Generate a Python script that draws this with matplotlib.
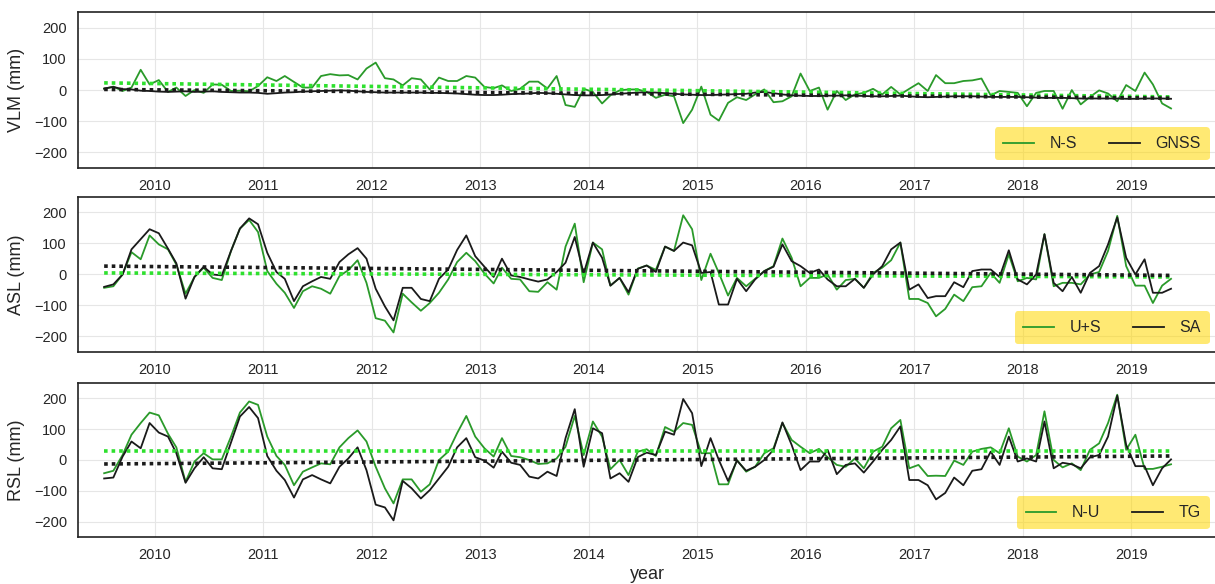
import numpy as np
import pandas as pd
import matplotlib
matplotlib.use("Agg")
import matplotlib.pyplot as plt
import matplotlib.dates as mdates

plt.rcParams['font.family'] = ['Liberation Sans', 'DejaVu Sans']
plt.rcParams['text.color'] = '#262626'
plt.rcParams['axes.labelcolor'] = '#262626'
plt.rcParams['xtick.color'] = '#262626'
plt.rcParams['ytick.color'] = '#262626'

# monthly samples, Jul 2009 - May 2019 (mid-month)
dates = pd.date_range('2009-07-01', periods=119, freq='MS') + pd.Timedelta(days=14)

# --- VLM panel ---
vlm_ns = [4, 11, -3, 8, 65, 18, 32, -6, 8, -19, 0, -9, 18, 17, -3, -2, -4, 13, 41, 29,
          45, 26, 8, 8, 45, 51, 47, 48, 34, 69, 88, 38, 34, 15, 38, 34, 2, 40, 29, 29,
          45, 40, 10, 6, 15, -3, 4, 27, 27, 5, 45, -48, -54, 4, -6, -43, -17, -1, 2, 2,
          -6, -25,
          -15, -20, -106, -63,
          11, -79, -98, -41, -23, -32, -14, 2, -39, -36, -20, 53,
          -3, 8, -63, -3, -32, -14, -9, 4, -14, 10, -14, 4,
          22, -3, 48, 22, 22, 29, 31, 37, -17, -3, -6, -9,
          -52, -9, -3, -3, -60, 0, -46, -22, -1, -11, -36, 16,
          -3, 56, 18, -43, -59]
vlm_gnss = [5, 10, 3, 2, -2, -3,
            -5, -6, -5, -4, -6, -5, -4, -6, -7, -8, -8, -9,
            -12, -10, -8, -7, -5, -4, -3, -2, -1, -2, -4, -6,
            -7, -8, -8, -8, -8, -8, -9, -9, -10, -11, -13, -15,
            -16, -16, -15, -13, -12, -11, -9, -10, -12, -14, -16, -17,
            -17, -16, -14, -12, -10, -8, -7, -8, -10, -12, -14, -15,
            -16, -16, -15, -14, -13, -12, -8, -6, -10, -14, -17, -18,
            -19, -19, -18, -18, -17, -18, -19, -20, -20, -19, -18, -20,
            -22, -23, -22, -21, -20, -20, -20, -21, -22, -22, -22, -22,
            -23, -24, -25, -25, -25, -26, -27, -27, -27, -27, -27, -28,
            -28, -27, -27, -27, -28]

# --- ASL panel ---
asl_us = [-43, -38, 0, 72, 49, 126, 97, 81, 32, -62, -8, 22, -11, -18, 76, 148, 176, 137, 11, -30,
          -59, -108, -54, -38, -46, -62, -5, 14, 46, -27, -141, -149, -187, -62, -90, -117, -92, -59, -16, 40,
          70, 43, 3, -29, 22, -14, -16, -54, -56, -25, -49, 90, 164, -25, 103, 81, -36, -11, -65, 19,
          29,
          15, 90, 76, 191, 146,
          -18, 67, 5, -68, -11, -38, -14, 11, 27, 116, 54, -38,
          -11, -11, 0, -49, -18, -14, -43, 5, 22, 46, 103, -79,
          -79, -92, -135, -111, -65, -86, -41, -38, 5, -27, 65, -22,
          -11, -16, 130, -38, -27, -27, -32, 0, 8, 76, 189, 27,
          -36, -36, -92, -36, -14]
asl_sa = [-40, -32, 0, 81, 114, 146, 133, 83, 36, -78, -8, 25, 0, -3, 76, 148, 181, 162, 70, 8,
          -14, -86, -38, -22, -8, -14, 40, 65, 85, 51, -46, -103, -148, -43, -43, -79, -86, -14, 16, 79,
          126, 59, 25, -8, 51, -3, -8, -16, -23, -16, 8, 38, 121, 3, 103, 54, -36, -11, -57, 18,
          29,
          8, 90, 76, 103, 94,
          5, 8, -97, -97, -14, -54, -16, 11, 25, 97, 43, 27,
          5, 16, -16, -38, -38, -14, -43, 0, 27, 81, 103, -49,
          -32, -76, -70, -70, -25, -41, 11, 16, 16, -8, 78, -16,
          -32, 0, 130, -27, -54, -8, -59, 5, 27, 97, 184, 54,
          0, 49, -59, -59, -46]

# --- RSL panel ---
rsl_nu = [-43, -35, 16, 82, 120, 154, 145, 85, 41, -71, -5, 22, 2, 2, 76, 154, 190, 179, 76, 13,
          -16, -82, -38, -24, -11, -14, 41, 71, 96, 60, -22, -92, -141, -63, -63, -103, -79, 0, 27, 87,
          143, 76, 38, 11, 71, 13, 9, 0, -13, -11, 5, 43, 143, 16, 125, 76, -30, 0, -49, 27,
          35,
          13, 107, 92, 120, 114,
          22, 22, -79, -79, 0, -38, -22, 22, 38, 120, 65, 43,
          22, 36, 9, -16, -22, 5, -27, 27, 43, 103, 130, -27,
          -16, -52, -51, -52, -2, -16, 27, 36, 41, 22, 103, 11,
          -5, 16, 158, 0, -24, -11, -33, 33, 54, 120, 212, 33,
          82, -29, -29, -22, -14]
rsl_tg = [-60, -57, 11, 60, 38, 120, 89, 76, 22, -74, -27, 9, -27, -30, 57, 141, 172, 136, 13, -35,
          -65, -122, -63, -49, -63, -76, -22, 5, 41, -33, -145, -154, -196, -68, -92, -125, -98, -60, -22, 41,
          71, 9, -2, -25, 27, -9, -16, -54, -60, -38, -52, 71, 165, -22, 103, 87, -60, -43, -71, 9,
          24,
          16, 92, 82, 198, 152,
          -20, 71, 0, -68, -2, -35, -22, 0, 33, 122, 49, -33,
          -5, -5, 33, -46, -16, -11, -41, -5, 33, 65, 109, -65,
          -65, -82, -128, -107, -57, -82, -35, -30, 27, -16, 76, -5,
          5, -5, 125, -27, -9, -14, -27, 9, 16, 76, 209, 49,
          -20, -20, -82, -27, 2]

# trend lines (start, end)
vlm_trend_green = [23, -22]
vlm_trend_black = [2, -26]
asl_trend_green = [5, -8]
asl_trend_black = [27, -3]
rsl_trend_green = [29, 29]
rsl_trend_black = [-13, 13]

panels = [
    ("VLM (mm)", vlm_ns, vlm_gnss, "N-S", "GNSS", vlm_trend_green, vlm_trend_black),
    ("ASL (mm)", asl_us, asl_sa, "U+S", "SA", asl_trend_green, asl_trend_black),
    ("RSL (mm)", rsl_nu, rsl_tg, "N-U", "TG", rsl_trend_green, rsl_trend_black),
]

fig = plt.figure(figsize=(12.15, 5.84), dpi=100)
boxes = [(0.0642, 0.7123, 0.938, 0.2670),
         (0.0642, 0.3973, 0.938, 0.2654),
         (0.0642, 0.0805, 0.938, 0.2637)]

green = '#2a9a2a'
lime = '#2ee02e'
black = '#1a1a1a'
ends = [dates[0], dates[-1]]

for box, (ylab, g, k, gl, kl, tg, tk) in zip(boxes, panels):
    ax = fig.add_axes(box)
    ax.plot(dates, g, color=green, lw=1.3, label=gl, zorder=3)
    ax.plot(dates, k, color=black, lw=1.3, label=kl, zorder=3)
    ax.plot(ends, tg, color=lime, lw=2.6, ls=(0, (1, 1.1)), zorder=4)
    ax.plot(ends, tk, color=black, lw=2.6, ls=(0, (1, 1.1)), zorder=4)

    ax.set_ylim(-250, 250)
    ax.set_yticks([-200, -100, 0, 100, 200])
    ax.set_xlim(pd.Timestamp('2009-04-18'), pd.Timestamp('2019-10-19'))
    ax.xaxis.set_major_locator(mdates.YearLocator())
    ax.xaxis.set_major_formatter(mdates.DateFormatter('%Y'))
    ax.tick_params(length=0, labelsize=10.5, pad=8)
    ax.grid(True, color='#e6e6e6', lw=0.8)
    ax.set_axisbelow(True)
    for s in ax.spines.values():
        s.set_color('#222222')
        s.set_linewidth(1.2)
    ax.set_ylabel(ylab, fontsize=13, labelpad=6)

    leg = ax.legend(loc='lower right', ncol=2, fontsize=11.5, fancybox=True,
                    facecolor='#ffd700', framealpha=0.55, edgecolor='none',
                    handlelength=1.9, columnspacing=2.0, handletextpad=1.0,
                    borderpad=0.55, borderaxespad=0.5)

ax.set_xlabel('year', fontsize=13, labelpad=3)

fig.savefig('out.png', dpi=100)
